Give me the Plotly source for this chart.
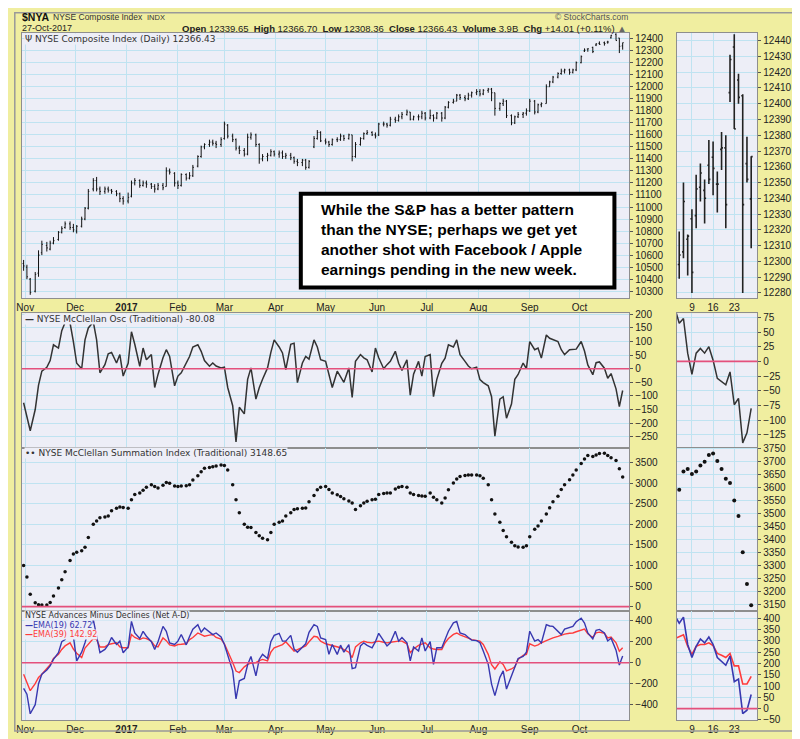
import pandas as pd
import plotly.graph_objects as go
from plotly.subplots import make_subplots

# main panels: Mon / Wed / Fri samples, Oct 31 2016 - Oct 27 2017
dates = pd.bdate_range("2016-10-31", "2017-10-27", freq="C", weekmask="Mon Wed Fri")

opens = [
    10530, 10500, 10400, 10300, 10450, 10620, 10680, 10650, 10700, 10730, 10790, 10830,
    10860, 10830, 10800, 10840, 10900, 10990, 11150, 11220, 11150, 11130, 11150, 11140,
    11130, 11110, 11070, 11050, 11090, 11200, 11220, 11180, 11200, 11190, 11170, 11150,
    11180, 11170, 11300, 11280, 11200, 11180, 11270, 11240, 11260, 11340, 11420, 11500,
    11520, 11540, 11530, 11520, 11570, 11680, 11590, 11560, 11490, 11470, 11440, 11580,
    11600, 11520, 11400, 11420, 11430, 11460, 11440, 11450, 11420, 11430, 11410, 11380,
    11370, 11390, 11330, 11500, 11570, 11620, 11550, 11540, 11520, 11560, 11560, 11590,
    11570, 11600, 11420, 11520, 11570, 11610, 11620, 11600, 11600, 11690, 11690, 11680,
    11730, 11720, 11750, 11770, 11790, 11730, 11750, 11750, 11780, 11740, 11760, 11740,
    11780, 11740, 11830, 11870, 11880, 11930, 11910, 11900, 11930, 11950, 11960, 11940,
    11970, 11980, 11950, 11820, 11860, 11880, 11760, 11700, 11750, 11770, 11780, 11800,
    11880, 11790, 11850, 11860, 12000, 12040, 12080, 12110, 12130, 12140, 12120, 12140,
    12200, 12298, 12314, 12327, 12347, 12361, 12366, 12371, 12407, 12436, 12405, 12339.65,
]
highs = [
    10560, 10520, 10410, 10460, 10640, 10720, 10710, 10720, 10750, 10800, 10840, 10880,
    10880, 10860, 10850, 10920, 11000, 11150, 11240, 11250, 11170, 11170, 11170, 11150,
    11140, 11120, 11090, 11120, 11220, 11240, 11230, 11220, 11220, 11200, 11190, 11200,
    11200, 11330, 11320, 11290, 11220, 11280, 11280, 11290, 11350, 11430, 11510, 11530,
    11560, 11560, 11550, 11580, 11710, 11690, 11610, 11570, 11510, 11490, 11610, 11620,
    11610, 11530, 11440, 11450, 11480, 11470, 11470, 11470, 11450, 11450, 11420, 11400,
    11400, 11400, 11390, 11590, 11640, 11630, 11570, 11550, 11570, 11580, 11610, 11600,
    11610, 11600, 11540, 11580, 11620, 11640, 11630, 11620, 11700, 11710, 11700, 11750,
    11750, 11770, 11790, 11810, 11790, 11760, 11770, 11800, 11790, 11810, 11770, 11790,
    11790, 11840, 11880, 11900, 11940, 11940, 11930, 11950, 11960, 11980, 11980, 11980,
    11990, 11990, 11950, 11870, 11900, 11890, 11770, 11760, 11790, 11790, 11820, 11900,
    11890, 11860, 11870, 12020, 12050, 12090, 12120, 12150, 12150, 12150, 12150, 12210,
    12260, 12319, 12317, 12333, 12362, 12377, 12376, 12382, 12431, 12444, 12406, 12366.70,
]
lows = [
    10470, 10400, 10270, 10290, 10420, 10600, 10630, 10640, 10690, 10720, 10780, 10820,
    10810, 10790, 10780, 10830, 10890, 10980, 11130, 11130, 11100, 11110, 11120, 11110,
    11090, 11040, 11020, 11030, 11080, 11180, 11160, 11170, 11160, 11150, 11120, 11140,
    11140, 11170, 11270, 11170, 11150, 11170, 11220, 11230, 11250, 11330, 11410, 11480,
    11500, 11510, 11490, 11500, 11560, 11570, 11540, 11470, 11440, 11420, 11430, 11560,
    11500, 11360, 11380, 11380, 11420, 11420, 11410, 11400, 11400, 11390, 11360, 11340,
    11340, 11310, 11320, 11490, 11560, 11540, 11520, 11500, 11510, 11540, 11550, 11550,
    11560, 11380, 11410, 11510, 11560, 11600, 11590, 11570, 11590, 11670, 11660, 11670,
    11700, 11710, 11730, 11760, 11720, 11720, 11720, 11730, 11720, 11730, 11710, 11730,
    11710, 11730, 11820, 11860, 11880, 11890, 11880, 11890, 11910, 11930, 11920, 11930,
    11950, 11880, 11760, 11800, 11840, 11740, 11680, 11690, 11740, 11740, 11760, 11790,
    11770, 11780, 11830, 11860, 12000, 12030, 12070, 12100, 12110, 12100, 12110, 12130,
    12195, 12289, 12291, 12280, 12338, 12349, 12342, 12358, 12401, 12384, 12280, 12308.36,
]
closes = [
    10510, 10420, 10290, 10440, 10600, 10690, 10660, 10700, 10720, 10790, 10820, 10860,
    10830, 10810, 10840, 10900, 10990, 11130, 11220, 11150, 11130, 11150, 11140, 11130,
    11110, 11070, 11050, 11080, 11200, 11220, 11180, 11200, 11190, 11170, 11150, 11180,
    11160, 11300, 11290, 11200, 11180, 11270, 11240, 11260, 11330, 11420, 11500, 11520,
    11540, 11530, 11520, 11560, 11690, 11590, 11560, 11490, 11470, 11440, 11580, 11600,
    11520, 11400, 11420, 11430, 11460, 11440, 11450, 11420, 11430, 11410, 11380, 11370,
    11390, 11330, 11380, 11570, 11620, 11550, 11540, 11520, 11560, 11560, 11590, 11570,
    11600, 11420, 11520, 11570, 11610, 11620, 11600, 11590, 11690, 11690, 11680, 11730,
    11720, 11750, 11770, 11790, 11730, 11750, 11750, 11780, 11740, 11760, 11740, 11780,
    11740, 11830, 11870, 11880, 11930, 11910, 11900, 11930, 11950, 11960, 11940, 11970,
    11980, 11950, 11820, 11860, 11880, 11760, 11700, 11750, 11770, 11780, 11800, 11880,
    11790, 11850, 11860, 12000, 12040, 12080, 12110, 12130, 12140, 12120, 12140, 12200,
    12250, 12304, 12316, 12293, 12356, 12352, 12359, 12372, 12428, 12384, 12336, 12366.43,
]
mcclellan_osc = [
    -125, -180, -228, -150, -60, -9, 5, 30, 88, 76, 140, 170,
    168, 100, 20, 0, 106, 150, 172, 106, -15, 15, 55, 60,
    21, 52, -27, 20, 136, 90, 9, 76, 33, 52, -69, -21,
    40, 70, 45, -63, -27, -15, 20, 45, 80, 88, 64, 30,
    9, 21, 10, 3, 6, -69, -136, -269, -142, -166, -39, 3,
    -112, -70, -39, 3, 60, 106, 80, 58, -3, 90, 94, -51,
    21, 45, 35, 106, 80, 33, 27, -20, -69, -9, -30, -50,
    3, -106, 27, 52, 40, 33, -12, 76, 40, 0, 15, 27,
    64, 20, -6, 33, -97, -20, 27, -27, 45, 52, -103, -39,
    20, 39, 88, 80, 106, 52, 27, 10, 0, 6, -40, -51,
    -63, -103, -248, -112, -103, -182, -130, -39, -21, 21, 0, 100,
    70, 76, 39, 124, 112, 108, 100, 70, 52, 70, 70, 72,
    100, 65, 14, -22, 22, 25, 2, -35, -18, -74, -139, -80.08,
]
summation = [
    1000, 721, 300, 96, 45, 40, 40, 100, 260, 450, 650, 850,
    1121, 1280, 1320, 1360, 1442, 1682, 2002, 2080, 2160, 2180, 2202, 2330,
    2390, 2420, 2410, 2390, 2600, 2723, 2760, 2830, 2900, 2960, 2920, 2883,
    2950, 3019, 3000, 2930, 2923, 2930, 2940, 2960, 3080, 3180, 3282, 3362,
    3380, 3400, 3420, 3442, 3430, 3322, 2963, 2600, 2282, 2000, 1930, 1922,
    1800, 1720, 1660, 1626, 1802, 2002, 2050, 2082, 2202, 2282, 2362, 2380,
    2390, 2400, 2550, 2700, 2843, 2900, 2923, 2850, 2763, 2720, 2680, 2620,
    2570, 2522, 2362, 2450, 2520, 2560, 2600, 2610, 2723, 2750, 2760, 2763,
    2860, 2900, 2923, 2900, 2760, 2723, 2700, 2690, 2683, 2763, 2660, 2600,
    2522, 2643, 2843, 3003, 3100, 3163, 3190, 3203, 3200, 3200, 3180, 3123,
    2963, 2600, 2250, 2050, 1850, 1700, 1562, 1482, 1450, 1442, 1480, 1700,
    1880, 1960, 2080, 2250, 2402, 2550, 2683, 2850, 2960, 3083, 3200, 3322,
    3482, 3592, 3672, 3652, 3685, 3725, 3731, 3672, 3618, 3551, 3352, 3148.65,
]
ema19 = [
    -245, -300, -487, -400, -200, -110, -70, -31, 31, 95, 200, 220,
    320, 250, 17, 100, 190, 299, 410, 236, 95, 126, 170, 240,
    173, 205, 95, 150, 393, 283, 230, 299, 252, 200, 126, 200,
    346, 299, 189, 173, 205, 268, 170, 250, 320, 362, 290, 330,
    290, 268, 283, 245, 173, 79, -78, -345, -173, -150, -20, 60,
    -126, 31, 79, 40, 200, 260, 280, 205, 205, 260, 130, 100,
    150, 180, 290, 362, 346, 236, 220, 79, 173, 79, 167, 100,
    173, -56, -47, 160, 189, 165, 142, 200, 280, 200, 160, 189,
    299, 205, 240, 189, 17, 150, 111, 236, 111, 200, -16, 142,
    142, 220, 300, 380, 393, 283, 268, 240, 215, 210, 190, 111,
    -16, -204, -314, -140, -78, -251, -120, -40, 40, 60, 100, 300,
    205, 220, 189, 362, 350, 346, 300, 268, 320, 340, 346, 390,
    424, 378, 284, 226, 308, 317, 284, 207, 233, 119, -22, 62.72,
]
ema39 = [
    -110, -189, -267, -200, -141, -110, -60, -20, 40, 80, 126, 160,
    189, 130, 90, 48, 140, 180, 230, 220, 150, 150, 173, 180,
    189, 150, 142, 142, 268, 240, 220, 236, 230, 205, 160, 150,
    236, 210, 170, 160, 173, 175, 180, 220, 240, 283, 270, 252,
    262, 268, 240, 225, 180, 111, 1, -80, -94, -40, -16, -5,
    1, 20, 31, 17, 100, 142, 160, 173, 200, 150, 111, 125,
    142, 160, 200, 252, 245, 205, 180, 173, 160, 155, 142, 125,
    100, 48, 150, 190, 205, 195, 189, 200, 205, 195, 189, 195,
    205, 205, 205, 180, 95, 130, 165, 180, 189, 142, 130, 126,
    126, 190, 230, 270, 283, 265, 250, 235, 220, 210, 205, 173,
    79, -20, -60, 9, -16, -78, -60, -40, 30, 70, 79, 180,
    158, 170, 190, 210, 225, 236, 250, 262, 272, 280, 283, 295,
    312, 320, 276, 240, 284, 291, 279, 236, 244, 189, 109, 142.92,
]

# right-hand panels: daily, October 2017
mini_days = ["2017-10-04", "2017-10-05", "2017-10-06", "2017-10-09", "2017-10-10", "2017-10-11",
             "2017-10-12", "2017-10-13", "2017-10-16", "2017-10-17", "2017-10-18", "2017-10-19",
             "2017-10-20", "2017-10-23", "2017-10-24", "2017-10-25", "2017-10-26", "2017-10-27"]
mini_line_days = ["2017-10-03"] + mini_days
mini_open = [12298, 12306, 12314, 12327, 12329, 12347, 12345, 12361, 12366, 12349, 12371, 12372,
             12407, 12436, 12415, 12405, 12362, 12339.65]
mini_high = [12319, 12350, 12317, 12333, 12355, 12362, 12352, 12377, 12376, 12357, 12382, 12380,
             12431, 12444, 12419, 12406, 12379, 12366.70]
mini_low = [12289, 12302, 12291, 12280, 12321, 12338, 12324, 12349, 12342, 12331, 12358, 12321,
            12401, 12384, 12400, 12280, 12350, 12308.36]
mini_close = [12304, 12338, 12316, 12293, 12346, 12356, 12340, 12352, 12359, 12349, 12372, 12336,
              12428, 12384, 12404, 12336, 12352, 12366.43]
mini_osc = [90, 65, 73, 14, -22, 14, 22, 14, 25, 2, -29, -35, -40, -18, -74, -63, -139, -122, -80.08]
mini_summation = [3592, 3662, 3672, 3652, 3662, 3685, 3700, 3725, 3731, 3702, 3672, 3634,
                  3618, 3551, 3491, 3352, 3230, 3148.65]
mini_ema19 = [410, 378, 405, 284, 226, 276, 308, 291, 317, 284, 226, 207, 192, 233, 119, 131, -22, -7, 62.72]
mini_ema39 = [310, 320, 327, 276, 240, 276, 284, 284, 291, 279, 244, 236, 226, 244, 189, 189, 109, 109, 142.92]

month_ticks = ["2016-11-01", "2016-12-01", "2017-01-01", "2017-02-01", "2017-03-01", "2017-04-01",
               "2017-05-01", "2017-06-01", "2017-07-01", "2017-08-01", "2017-09-01", "2017-10-01"]
month_labels = ["Nov", "Dec", "<b>2017</b>", "Feb", "Mar", "Apr", "May", "Jun", "Jul", "Aug", "Sep", "Oct"]
mini_ticks = ["2017-10-09", "2017-10-16", "2017-10-23"]
mini_labels = ["9", "16", "23"]

note = ("While the S&amp;P has a better pattern<br>than the NYSE; perhaps we get yet<br>"
        "another shot with Facebook / Apple<br>earnings pending in the new week.")

PAPER = "#F0EEA0"
PLOT_BG = "#EDEEF7"
GRID = "#BFE3F1"
BORDER = "#8E8E8E"
ZERO_RED = "#E4507C"
TICK_FONT = dict(family="Liberation Sans, Arial", size=10, color="#222")

# the page puts the figure 8px in from the window corner, so size and place for that
W, H = 792, 731


def px(x):
    return (x - 8) / W


def py(y):
    return 1 - (y - 8) / H


fig = make_subplots(rows=4, cols=2)

fig.add_trace(go.Ohlc(x=dates, open=opens, high=highs, low=lows, close=closes,
                      increasing_line_color="#111", decreasing_line_color="#111",
                      line_width=1, tickwidth=0.3), row=1, col=1)
fig.add_trace(go.Ohlc(x=mini_days, open=mini_open, high=mini_high, low=mini_low, close=mini_close,
                      increasing_line_color="#222", decreasing_line_color="#222",
                      line_width=1.6, tickwidth=0.35), row=1, col=2)

fig.add_trace(go.Scatter(x=dates, y=mcclellan_osc, mode="lines",
                         line=dict(color="#333", width=1.5)), row=2, col=1)
fig.add_trace(go.Scatter(x=mini_line_days, y=mini_osc, mode="lines",
                         line=dict(color="#333", width=1.5)), row=2, col=2)

fig.add_trace(go.Scatter(x=dates, y=summation, mode="markers",
                         marker=dict(color="#111", size=3.5)), row=3, col=1)
fig.add_trace(go.Scatter(x=mini_days, y=mini_summation, mode="markers",
                         marker=dict(color="#111", size=4)), row=3, col=2)

fig.add_trace(go.Scatter(x=dates, y=ema39, mode="lines", line=dict(color="#FF3B3B", width=1.4)), row=4, col=1)
fig.add_trace(go.Scatter(x=dates, y=ema19, mode="lines", line=dict(color="#3838B0", width=1.4)), row=4, col=1)
fig.add_trace(go.Scatter(x=mini_line_days, y=mini_ema39, mode="lines", line=dict(color="#FF3B3B", width=1.6)), row=4, col=2)
fig.add_trace(go.Scatter(x=mini_line_days, y=mini_ema19, mode="lines", line=dict(color="#3838B0", width=1.6)), row=4, col=2)


def main_x(labels):
    return dict(domain=[px(16), px(628)], type="date", range=["2016-10-30", "2017-10-31"],
                tickvals=month_ticks, ticktext=month_labels, showticklabels=labels,
                tickfont=TICK_FONT, ticks="", ticklen=0, showgrid=True, gridcolor=GRID, zeroline=False,
                showline=True, linecolor=BORDER, mirror=True, rangeslider=dict(visible=False))


def mini_x(labels, rng):
    return dict(domain=[px(676), px(757)], type="category", range=rng,
                tickvals=mini_ticks, ticktext=mini_labels, showticklabels=labels,
                tickfont=TICK_FONT, ticks="", ticklen=0, showgrid=True, gridcolor=GRID, zeroline=False,
                showline=True, linecolor=BORDER, mirror=True, rangeslider=dict(visible=False))


def right_y(top, bottom, rng, dtick):
    return dict(domain=[py(bottom), py(top)], range=rng, dtick=dtick, tickformat="d", side="right",
                ticks="outside", ticklen=3, tickcolor="#555", tickfont=TICK_FONT,
                showgrid=True, gridcolor=GRID, zeroline=False,
                showline=True, linecolor=BORDER, mirror=True)


fig.update_layout(
    xaxis=main_x(True), xaxis3=main_x(False), xaxis5=main_x(False), xaxis7=main_x(True),
    xaxis2=mini_x(True, [-0.54, 18.45]), xaxis4=mini_x(False, [0.46, 19.45]),
    xaxis6=mini_x(False, [-0.54, 18.45]), xaxis8=mini_x(True, [0.46, 19.45]),
    yaxis=right_y(29, 298, [10240, 12449], 100),
    yaxis2=right_y(29, 298, [12276.5, 12445], 10),
    yaxis3=right_y(313, 449, [-290, 204], 50),
    yaxis4=right_y(313, 449, [-147, 82], 25),
    yaxis5=right_y(449, 614, [-96, 3867], 500),
    yaxis6=right_y(449, 614, [3128, 3754], 50),
    yaxis7=right_y(614, 725, [-548, 497], 200),
    yaxis8=right_y(614, 725, [-51, 434], 50),
)

# zero lines
for xr, yr in [("x3", "y3"), ("x4", "y4"), ("x5", "y5"), ("x7", "y7"), ("x8", "y8")]:
    fig.add_shape(type="line", xref=xr + " domain", yref=yr, x0=0, x1=1, y0=0, y1=0,
                  line=dict(color=ZERO_RED, width=1.6))

# outer frame
fig.add_shape(type="rect", xref="paper", yref="paper", x0=0.001, x1=px(797), y0=py(736), y1=0.999,
              line=dict(color="#999", width=1.5))

# comment box
fig.add_shape(type="rect", xref="paper", yref="paper", x0=px(297), x1=px(613), y0=py(287), y1=py(192),
              fillcolor="white", line=dict(color="black", width=4))
fig.add_annotation(text=note, xref="paper", yref="paper", x=px(315), y=py(197), xanchor="left",
                   yanchor="top", align="left", showarrow=False,
                   font=dict(family="Liberation Sans, Arial", size=15.5, color="black", weight="bold"))

# header, two rows above the price panel
head = dict(xref="paper", yref="paper", showarrow=False, yanchor="middle")
fig.add_annotation(text="<b>$NYA</b>", x=px(14), y=py(13.5), xanchor="left",
                   font=dict(family="Liberation Sans, Arial", size=10.5, color="#111"), **head)
fig.add_annotation(text="NYSE Composite Index", x=px(45), y=py(13.5), xanchor="left",
                   font=dict(family="Liberation Sans, Arial", size=8.5, color="#333"), **head)
fig.add_annotation(text="INDX", x=px(140), y=py(13.5), xanchor="left",
                   font=dict(family="Liberation Sans, Arial", size=7.5, color="#333"), **head)
fig.add_annotation(text="© StockCharts.com", x=px(629), y=py(13.5), xanchor="right",
                   font=dict(family="Liberation Sans, Arial", size=8.5, color="#555"), **head)
fig.add_annotation(text="27-Oct-2017", x=px(14), y=py(24.5), xanchor="left",
                   font=dict(family="Liberation Sans, Arial", size=9, color="#222"), **head)
fig.add_annotation(text="<b>Open</b> 12339.65  <b>High</b> 12366.70  <b>Low</b> 12308.36  "
                        "<b>Close</b> 12366.43  <b>Volume</b> 3.9B  <b>Chg</b> +14.01 (+0.11%) "
                        "<span style='color:#666'>▲</span>",
                   x=px(628), y=py(24.5), xanchor="right",
                   font=dict(family="Liberation Sans, Arial", size=9.5, color="#222"), **head)


def panel_label(text, xr, yr, y, color="#333", size=9):
    fig.add_annotation(text=text, xref=xr + " domain", yref=yr + " domain", x=0.004, y=y,
                       xanchor="left", yanchor="middle", showarrow=False, bgcolor=PLOT_BG, borderpad=0,
                       font=dict(family="DejaVu Sans", size=size, color=color))


panel_label("Ψ NYSE Composite Index (Daily) 12366.43", "x", "y", 0.978)
panel_label("<b>—</b> NYSE McClellan Osc (Traditional) -80.08", "x3", "y3", 0.955)
panel_label("•• NYSE McClellan Summation Index (Traditional) 3148.65", "x5", "y5", 0.965)
panel_label("NYSE Advances Minus Declines (Net A-D)", "x7", "y7", 0.951, size=8)
panel_label("<b>—</b>EMA(19) 62.72", "x7", "y7", 0.865, color="#3838B0", size=8)
panel_label("<b>—</b>EMA(39) 142.92", "x7", "y7", 0.779, color="#FF3B3B", size=8)

fig.update_layout(
    width=W, height=H, margin=dict(l=0, r=0, t=0, b=0),
    paper_bgcolor=PAPER, plot_bgcolor=PLOT_BG, showlegend=False,
    font=dict(family="Liberation Sans, Arial", size=10, color="#222"),
)

fig.write_html("out.html")
